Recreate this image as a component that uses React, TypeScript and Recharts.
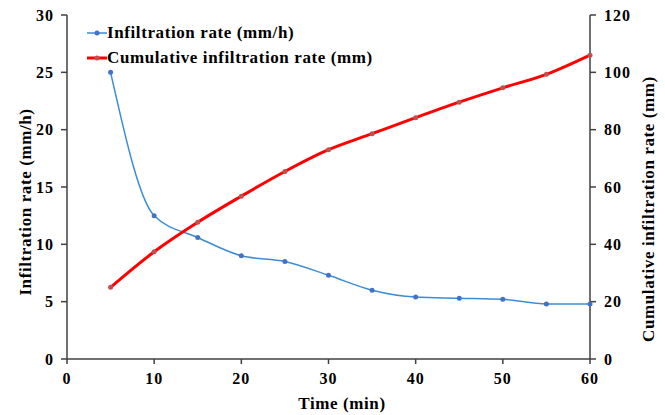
import { LineChart, Line, XAxis, YAxis, Label } from "recharts";

const times = [5, 10, 15, 20, 25, 30, 35, 40, 45, 50, 55, 60];
const infiltrationRate = [25, 12.5, 10.6, 9.0, 8.5, 7.3, 6.0, 5.4, 5.3, 5.2, 4.8, 4.8];
const cumulativeInfiltration = [25, 37.4, 47.7, 56.8, 65.4, 73.0, 78.6, 84.2, 89.6, 94.6, 99.3, 106];

const leftTicks = [0, 5, 10, 15, 20, 25, 30];
const rightTicks = [0, 20, 40, 60, 80, 100, 120];
const xTicks = [0, 10, 20, 30, 40, 50, 60];

const data = times.map((t, i) => ({
  time: t,
  rate: infiltrationRate[i],
  cumulative: cumulativeInfiltration[i],
}));

const FONT = '"Liberation Serif", "Times New Roman", serif';
const AXIS = "#404040";
const BLUE = "#3C8DD6";
const RED = "#FF0000";

const tickStyle = {
  fill: "#000",
  fontSize: 16,
  fontWeight: 700,
  fontFamily: FONT,
  letterSpacing: 1,
};

const labelText = {
  fill: "#000",
  fontSize: 17,
  fontWeight: 700,
  fontFamily: FONT,
  letterSpacing: 0.6,
};

function ChartLegend() {
  const rows = [
    { name: "Infiltration rate (mm/h)", color: BLUE, width: 1.5, dot: "#4472C4" },
    { name: "Cumulative infiltration rate (mm)", color: RED, width: 3, dot: "#C0504D" },
  ];
  return (
    <div
      style={{
        position: "absolute",
        left: 87,
        top: 20,
        fontFamily: FONT,
        fontWeight: 700,
        fontSize: 17,
        letterSpacing: 0.6,
        lineHeight: "24px",
      }}
    >
      {rows.map((r) => (
        <div key={r.name} style={{ display: "flex", alignItems: "center", height: 25 }}>
          <svg width={20} height={10} style={{ display: "block" }}>
            <line x1={0} y1={5} x2={20} y2={5} stroke={r.color} strokeWidth={r.width} />
            <circle cx={10} cy={5} r={2.5} fill={r.dot} />
          </svg>
          <span>{r.name}</span>
        </div>
      ))}
    </div>
  );
}

export default function App() {
  return (
    <div style={{ position: "absolute", left: 0, top: 0, width: 665, height: 415, background: "#fff" }}>
      <LineChart
        width={665}
        height={415}
        data={data}
        margin={{ top: 15, right: 0, bottom: 0, left: 0 }}
      >
        <XAxis
          type="number"
          dataKey="time"
          domain={[0, 60]}
          ticks={xTicks}
          height={56}
          tick={tickStyle}
          tickSize={5}
          tickMargin={9}
          stroke={AXIS}
          strokeWidth={1.5}
        >
          <Label
            content={() => (
              <text x={342} y={409} textAnchor="middle" style={labelText}>
                Time (min)
              </text>
            )}
          />
        </XAxis>
        <YAxis
          yAxisId="left"
          domain={[0, 30]}
          ticks={leftTicks}
          width={67}
          tick={tickStyle}
          tickSize={6}
          tickMargin={7}
          stroke={AXIS}
          strokeWidth={1.5}
        >
          <Label
            content={() => (
              <text
                x={25}
                y={202}
                textAnchor="middle"
                dominantBaseline="central"
                transform="rotate(-90 25 202)"
                style={labelText}
              >
                Infiltration rate (mm/h)
              </text>
            )}
          />
        </YAxis>
        <YAxis
          yAxisId="right"
          orientation="right"
          domain={[0, 120]}
          ticks={rightTicks}
          width={75}
          tick={tickStyle}
          tickSize={6}
          tickMargin={8}
          stroke={AXIS}
          strokeWidth={1.5}
        >
          <Label
            content={() => (
              <text
                x={648}
                y={209}
                textAnchor="middle"
                dominantBaseline="central"
                transform="rotate(-90 648 209)"
                style={labelText}
              >
                Cumulative infiltration rate (mm)
              </text>
            )}
          />
        </YAxis>
        <Line
          yAxisId="left"
          type="monotone"
          dataKey="rate"
          name="Infiltration rate (mm/h)"
          stroke={BLUE}
          strokeWidth={1.5}
          dot={{ r: 2.5, fill: "#4472C4", stroke: "none" }}
          isAnimationActive={false}
        />
        <Line
          yAxisId="right"
          type="monotone"
          dataKey="cumulative"
          name="Cumulative infiltration rate (mm)"
          stroke={RED}
          strokeWidth={3}
          dot={{ r: 2.5, fill: "#C0504D", stroke: "none" }}
          isAnimationActive={false}
        />
      </LineChart>
      <ChartLegend />
    </div>
  );
}
